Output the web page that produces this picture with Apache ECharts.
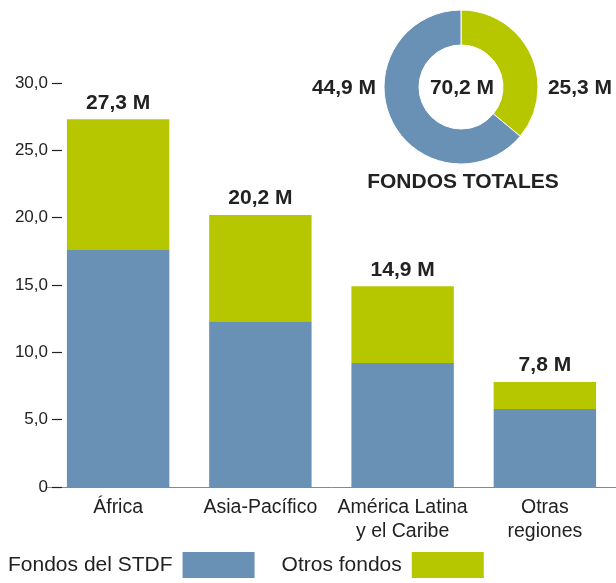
<!DOCTYPE html>
<html>
<head>
<meta charset="utf-8">
<script src="https://cdn.jsdelivr.net/npm/echarts@6/dist/echarts.min.js"></script>
<style>
  html, body { margin: 0; padding: 0; background: #fff; }
  #chart { width: 616px; height: 583px; }
</style>
</head>
<body>
<div id="chart"></div>
<script>
    var regiones = ['África', 'Asia-Pacífico', 'América Latina\ny el Caribe', 'Otras\nregiones'];
    var fondosStdf = [17.6, 12.3, 9.2, 5.8];
    var otrosFondos = [9.7, 7.9, 5.7, 2.0];
    var totales = [27.3, 20.2, 14.9, 7.8];
    var totalStdf = 44.9, totalOtros = 25.3, totalGeneral = 70.2;

    var azul = '#6891b5', verde = '#b6c700';
    var fuente = 'Liberation Sans, Arial, sans-serif';
    var negrita = 'bold 21px ' + fuente;

    function fmt(v) {
        return v.toFixed(1).replace('.', ',');
    }

    function texto(x, y, t) {
        return {
            type: 'text',
            style: {x: x, y: y, text: t, font: negrita, fill: '#222', textAlign: 'center', textVerticalAlign: 'middle'}
        };
    }

    var myChart = echarts.init(document.getElementById('chart'));
    myChart.setOption({
        animation: false,
        textStyle: {fontFamily: fuente},
        grid: {left: 47, width: 572, top: 83, bottom: 96},
        legend: {
            left: 3,
            bottom: 0,
            align: 'right',
            itemWidth: 72,
            itemHeight: 26,
            itemGap: 27,
            icon: 'rect',
            textStyle: {fontSize: 21, color: '#222', padding: [0, 5, 0, 0]},
            data: ['Fondos del STDF', 'Otros fondos']
        },
        xAxis: {
            type: 'category',
            data: regiones,
            axisLine: {lineStyle: {color: '#888', width: 1}},
            axisTick: {show: false},
            axisLabel: {fontSize: 19.5, color: '#222', margin: 9, lineHeight: 24, interval: 0}
        },
        yAxis: {
            type: 'value',
            min: 0,
            max: 30,
            interval: 5,
            offset: -15,
            splitLine: {show: false},
            axisLine: {show: false},
            axisTick: {show: true, length: 10, lineStyle: {color: '#222', width: 1.2}},
            axisLabel: {
                fontSize: 17, color: '#222', margin: 14,
                formatter: function (v) { return v === 0 ? '0' : fmt(v); }
            }
        },
        series: [
            {
                name: 'Fondos del STDF',
                type: 'bar',
                stack: 'total',
                barCategoryGap: '28%',
                itemStyle: {color: azul},
                data: fondosStdf
            },
            {
                name: 'Otros fondos',
                type: 'bar',
                stack: 'total',
                itemStyle: {color: verde},
                label: {
                    show: true,
                    position: 'top',
                    distance: 6,
                    fontSize: 21,
                    fontWeight: 'bold',
                    color: '#222',
                    formatter: function (p) { return fmt(totales[p.dataIndex]) + ' M'; }
                },
                data: otrosFondos
            },
            {
                name: 'Fondos totales',
                type: 'pie',
                center: [461, 87],
                radius: [42, 77],
                startAngle: 90,
                clockwise: true,
                label: {show: false},
                labelLine: {show: false},
                silent: true,
                itemStyle: {borderColor: '#fff', borderWidth: 1},
                data: [
                    {value: totalOtros, name: 'Otros fondos', itemStyle: {color: verde}},
                    {value: totalStdf, name: 'Fondos del STDF', itemStyle: {color: azul}}
                ]
            }
        ],
        graphic: [
            texto(344, 88, fmt(totalStdf) + ' M'),
            texto(580, 88, fmt(totalOtros) + ' M'),
            texto(462, 88, fmt(totalGeneral) + ' M'),
            texto(463, 182, 'FONDOS TOTALES')
        ]
    });

    window.onresize = function () {
        myChart.resize();
    };
</script>
</body>
</html>
